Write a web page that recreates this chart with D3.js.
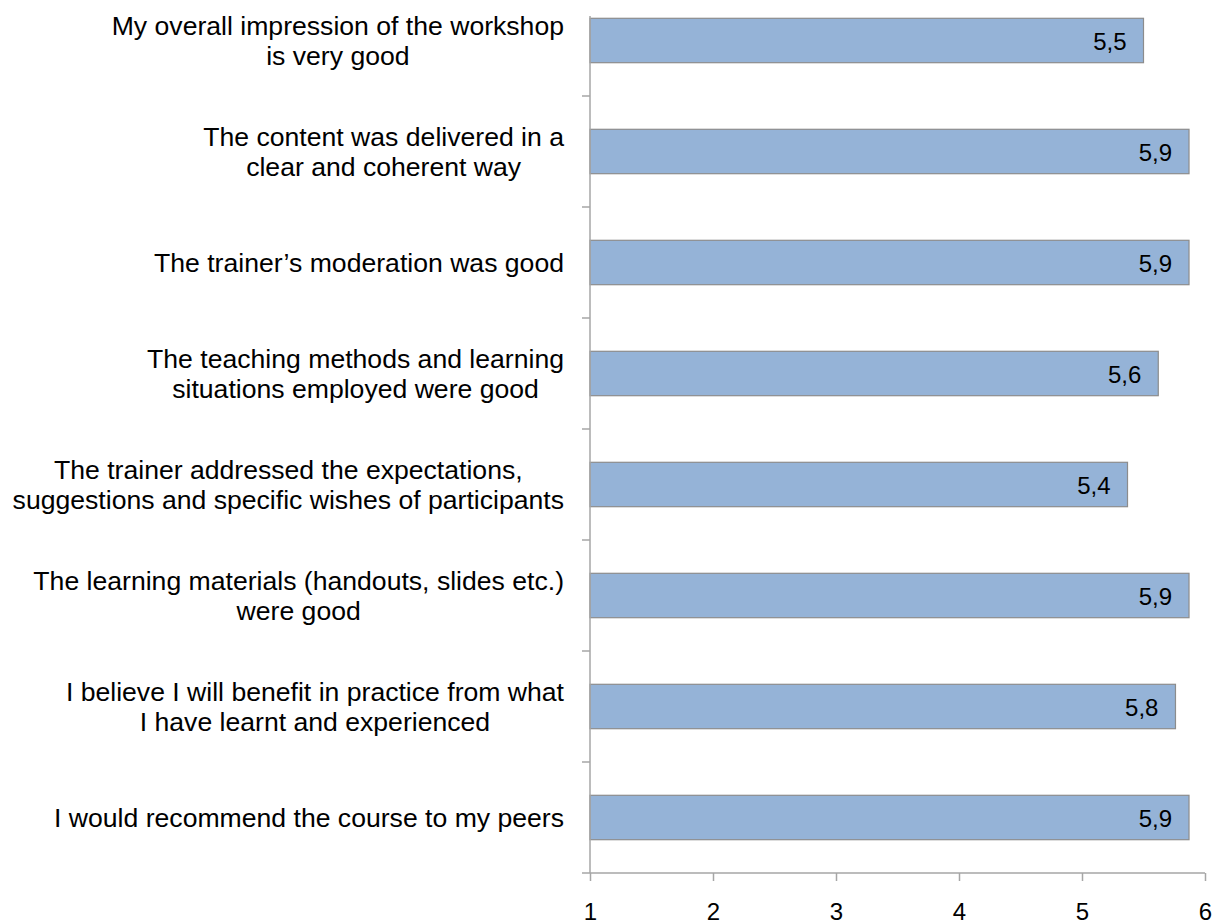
<!DOCTYPE html>
<html>
<head>
<meta charset="utf-8">
<script src="https://cdn.jsdelivr.net/npm/d3@7"></script>
<style>
    body { margin: 0; background: #fff; }
    text { font-family: "Liberation Sans", Arial, sans-serif; fill: #000; }
</style>
</head>
<body>
<div id="chart"></div>
<script>
var statements = [
    ["My overall impression of the workshop", "is very good"],
    ["The content was delivered in a", "clear and coherent way"],
    ["The trainer\u2019s moderation was good"],
    ["The teaching methods and learning", "situations employed were good"],
    ["The trainer addressed the expectations,", "suggestions and specific wishes of participants"],
    ["The learning materials (handouts, slides etc.)", "were good"],
    ["I believe I will benefit in practice from what", "I have learnt and experienced"],
    ["I would recommend the course to my peers"]
];
var scores = [5.5, 5.87, 5.87, 5.62, 5.37, 5.87, 5.76, 5.87];
var xTicks = [1, 2, 3, 4, 5, 6];

function drawChart() {
    var width = 1222, height = 924;
    var left = 590, right = 1205, top = -15, bottom = 873;
    var svg = d3.select("#chart").append("svg")
        .attr("width", width).attr("height", height);

    var x = d3.scaleLinear().domain([1, 6]).range([left, right]);
    var y = d3.scaleBand().domain(d3.range(statements.length))
        .range([top, bottom]).paddingInner(0.6).paddingOuter(0.3);
    var step = y.step();
    var fmt = function (v) { return d3.format(".1f")(v).replace(".", ","); };

    // bars
    svg.append("g").selectAll("rect").data(scores).enter().append("rect")
        .attr("x", x(1))
        .attr("y", function (d, i) { return y(i); })
        .attr("width", function (d) { return x(d) - x(1); })
        .attr("height", y.bandwidth())
        .attr("fill", "#95b3d7")
        .attr("stroke", "#8c8c8c")
        .attr("stroke-width", 1.2);

    svg.append("g").selectAll("text").data(scores).enter().append("text")
        .attr("x", function (d) { return x(d) - 17; })
        .attr("y", function (d, i) { return y(i) + y.bandwidth() / 2 + 9; })
        .attr("text-anchor", "end")
        .style("font-size", "24px")
        .text(fmt);

    // y axis line and ticks between categories
    var axis = svg.append("g").attr("stroke", "#a6a6a6").attr("stroke-width", 1.5);
    axis.append("line").attr("x1", left).attr("x2", left).attr("y1", 16).attr("y2", bottom);
    var tickY = function (d) { return y(d) + y.bandwidth() + (step - y.bandwidth()) / 2; };
    axis.selectAll(".ytick").data(d3.range(statements.length - 1)).enter().append("line")
        .attr("class", "ytick")
        .attr("x1", left - 8).attr("x2", left)
        .attr("y1", tickY).attr("y2", tickY);

    // x axis
    var xAxis = svg.append("g").attr("transform", "translate(0," + bottom + ")")
        .call(d3.axisBottom(x).tickValues(xTicks).tickSize(8).tickPadding(22).tickFormat(d3.format("d")));
    xAxis.select(".domain").attr("stroke", "#a6a6a6").attr("stroke-width", 1.5)
        .attr("d", "M" + (left - 8) + ",0H" + right);
    xAxis.selectAll(".tick line").attr("stroke", "#a6a6a6").attr("stroke-width", 1.5);
    xAxis.selectAll(".tick text").style("font-size", "24px").style("font-family", "Liberation Sans, Arial, sans-serif").attr("fill", "#000");

    // category labels: block right-aligned, lines centred inside block
    var labels = svg.append("g");
    statements.forEach(function (lines, i) {
        var g = labels.append("g");
        var cy = y(i) + y.bandwidth() / 2;
        var texts = g.selectAll("text").data(lines).enter().append("text")
            .style("font-size", "26.6px")
            .attr("text-anchor", "middle")
            .attr("y", function (d, j) { return cy + 9 + (j - (lines.length - 1) / 2) * 30; })
            .text(function (d) { return d; });
        var w = d3.max(texts.nodes(), function (n) { return n.getComputedTextLength(); });
        texts.attr("x", 564 - w / 2);
    });
}

drawChart();
</script>
</body>
</html>
